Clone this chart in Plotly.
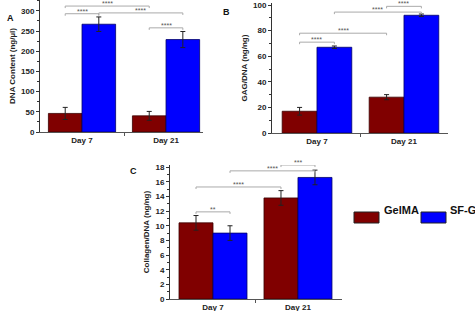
import plotly.graph_objects as go

days = ["Day 7", "Day 21"]
groups = ["GelMA", "SF-G"]
colors = {"GelMA": "#800000", "SF-G": "#0000FF"}
edge = {"GelMA": "#3a0000", "SF-G": "#00006a"}

dna = {"GelMA": [46, 40], "SF-G": [267, 229]}
dna_err = {"GelMA": [15, 11], "SF-G": [18, 20]}
gag = {"GelMA": [17, 28], "SF-G": [67, 92]}
gag_err = {"GelMA": [3, 2], "SF-G": [1, 1]}
col = {"GelMA": [10.4, 13.8], "SF-G": [9.0, 16.6]}
col_err = {"GelMA": [1.0, 1.0], "SF-G": [1.0, 1.0]}

# brackets: (group_a, day_a, group_b, day_b, level, label)
br_dna = [("GelMA", 0, "GelMA", 1, 312, "****"), ("GelMA", 0, "SF-G", 0, 293, "****"),
          ("SF-G", 0, "SF-G", 1, 295, "****"), ("GelMA", 1, "SF-G", 1, 258, "****")]
br_gag = [("GelMA", 0, "SF-G", 0, 71, "****"), ("GelMA", 0, "GelMA", 1, 78, "****"),
          ("SF-G", 0, "SF-G", 1, 94.5, "****"), ("GelMA", 1, "SF-G", 1, 99, "****")]
br_col = [("GelMA", 0, "SF-G", 0, 11.9, "**"), ("GelMA", 0, "GelMA", 1, 15.3, "****"),
          ("SF-G", 0, "SF-G", 1, 17.5, "****"), ("GelMA", 1, "SF-G", 1, 18.3, "***")]

W, H = 475, 311
FONT = "Liberation Sans, Arial, sans-serif"

def px_x(a, b):
    return [a / W, b / W]

def px_y(top, bottom):
    return [1 - bottom / H, 1 - top / H]

fig = go.Figure()
panels = [
    ("", dna, dna_err, br_dna, "DNA Content (ng/µl)", [0, 327], 50, 25, [-0.5, 1.44], 5.0),
    ("2", gag, gag_err, br_gag, "GAG/DNA (ng/ng)", [0, 101.6], 20, 10, [-0.517, 1.506], 1.6),
    ("3", col, col_err, br_col, "Collagen/DNA (ng/ng)", [0, 18.3], 2, 1, [-0.506, 1.518], 0.28),
]
domains = [
    (px_x(40, 203), px_y(0, 132)),
    (px_x(272, 448), px_y(3, 133)),
    (px_x(170, 342), px_y(165, 299)),
]
offs = {"GelMA": -0.2, "SF-G": 0.2}
for (suf, vals, errs, brs, title, yr, dt, mdt, xr, tick), (dx, dy) in zip(panels, domains):
    for g in groups:
        fig.add_trace(go.Bar(
            x=[0, 1], y=vals[g], name=g, offsetgroup=g,
            marker=dict(color=colors[g], line=dict(color=edge[g], width=0.8)),
            error_y=dict(type="data", array=errs[g], color="#222", thickness=1, width=2.5),
            xaxis="x" + suf, yaxis="y" + suf, showlegend=False))
    xref, yref = "x" + suf, "y" + suf
    for ga, da, gb, db, lv, lab in brs:
        x0 = da + offs[ga]
        x1 = db + offs[gb]
        fig.add_shape(type="path", xref=xref, yref=yref,
                      path=f"M {x0},{lv - tick} L {x0},{lv} L {x1},{lv} L {x1},{lv - tick}",
                      line=dict(color="#aaaaaa", width=1))
        fig.add_annotation(x=(x0 + x1) / 2, y=lv, xref=xref, yref=yref, text=lab,
                           showarrow=False, yanchor="bottom", yshift=-3,
                           font=dict(size=7, color="#555", family=FONT))
    ax = dict(domain=dx, range=xr, tickvals=[0, 1], ticktext=days, ticks="",
              showline=True, linecolor="#555", linewidth=1, showgrid=False, zeroline=False,
              automargin=False,
              tickfont=dict(size=8, family=FONT, color="#222", weight="bold"),
              minor=dict(tickvals=[0.5], ticks="outside", ticklen=3, tickcolor="#555"),
              anchor="y" + suf)
    ay = dict(domain=dy, range=yr, dtick=dt, ticks="outside", ticklen=3, tickcolor="#333",
              showline=True, linecolor="#333", linewidth=1, showgrid=False, zeroline=False,
              automargin=False,
              tickfont=dict(size=8, family=FONT, color="#222", weight="bold"),
              minor=dict(dtick=mdt, ticks="outside", ticklen=2, tickcolor="#333"),
              title=dict(text=title, font=dict(size=8, family=FONT, color="#222", weight="bold"),
                         standoff=4),
              anchor="x" + suf)
    fig.update_layout(**{"xaxis" + suf: ax, "yaxis" + suf: ay})

# panel letters
for t, x, y in [("A", 5, 11), ("B", 226, 5), ("C", 128, 171)]:
    fig.add_annotation(x=x / W, y=1 - y / H, xref="paper", yref="paper", text=t,
                       showarrow=False, font=dict(size=9, family=FONT, color="#111", weight="bold"))

# legend
for g, bx, tx in [("GelMA", 354, 382), ("SF-G", 421, 448)]:
    fig.add_shape(type="rect", xref="paper", yref="paper",
                  x0=bx / W, x1=(bx + 25) / W, y0=1 - 223 / H, y1=1 - 212 / H,
                  fillcolor=colors[g], line=dict(color="#222", width=1))
    fig.add_annotation(x=tx / W, y=1 - 217.5 / H, xref="paper", yref="paper", text=g,
                       xanchor="left", showarrow=False,
                       font=dict(size=11, family=FONT, color="#111", weight="bold"))

fig.update_layout(width=W, height=H, margin=dict(l=0, r=0, t=0, b=0, autoexpand=False),
                  paper_bgcolor="white", plot_bgcolor="white",
                  barmode="group", bargap=0.2, bargroupgap=0, showlegend=False)
fig.write_html("out.html", config={"displayModeBar": False},
               post_script="document.body.style.margin='0';document.body.style.padding='0';document.body.style.overflow='hidden';")
